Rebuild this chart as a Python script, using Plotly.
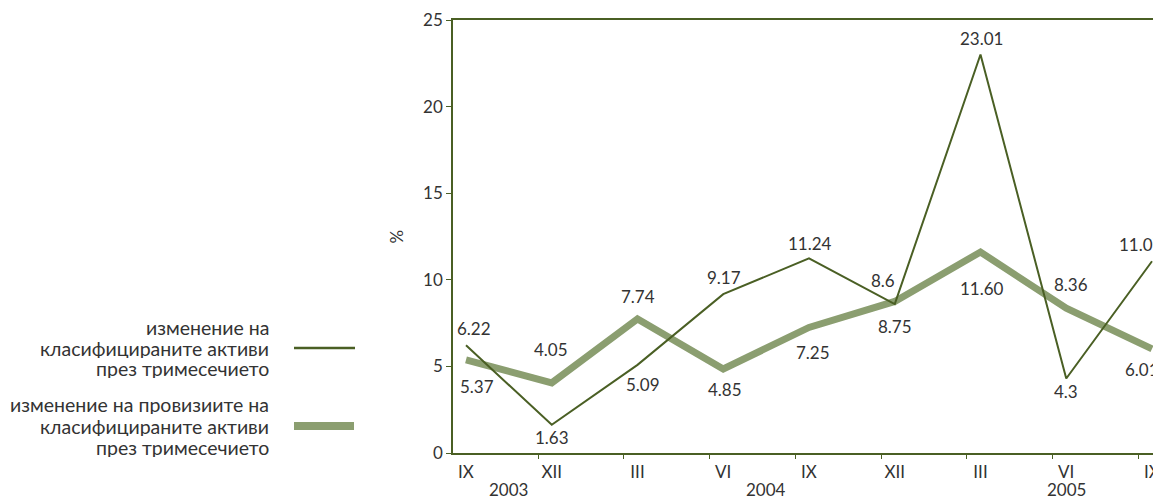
import plotly.graph_objects as go

# ---- data ----
months = ["IX", "XII", "III", "VI", "IX", "XII", "III", "VI", "IX"]
years = ["2003", "2003", "2004", "2004", "2004", "2004", "2005", "2005", "2005"]
assets_change = [6.22, 1.63, 5.09, 9.17, 11.24, 8.6, 23.01, 4.3, 11.07]
provisions_change = [5.37, 4.05, 7.74, 4.85, 7.25, 8.75, 11.60, 8.36, 6.01]
assets_labels = ["6.22", "1.63", "5.09", "9.17", "11.24", "8.6", "23.01", "4.3", "11.07"]
provisions_labels = ["5.37", "4.05", "7.74", "4.85", "7.25", "8.75", "11.60", "8.36", "6.01"]
name_assets = ["изменение на", "класифицираните активи", "през тримесечието"]
name_prov = ["изменение на провизиите на", "класифицираните активи", "през тримесечието"]

# ---- styles ----
DARK = "#4a5f24"
LIGHT = "#8b9e70"
TXT = "#333333"
FONT = "Lato"
NUM = 17
# label offsets (px) for data labels: (xshift, yshift)
assets_off = [(8, 17), (0, -13), (5, -20), (1, 17), (1, 15), (-12, 24), (1, 16), (0, -13), (-11, 17)]
prov_off = [(11, -27), (-1, 33), (0, 22), (2, -20), (4, -25), (0, -25), (1, -36), (5, 24), (-10, -21)]

OFF = 8  # page body margin
W, H = 1153, 490
L, R, T, B = 445, 0, 12, 45
pw, ph = W - L - R, H - T - B

def px_x(sx):
    return (sx - OFF - L) / pw

def px_y(sy):
    return (OFF + H - B - sy) / ph

xs = list(range(len(months)))

fig = go.Figure()
fig.add_trace(go.Scatter(x=xs, y=provisions_change, mode="lines",
                         line=dict(color=LIGHT, width=7), showlegend=False))
fig.add_trace(go.Scatter(x=xs, y=assets_change, mode="lines",
                         line=dict(color=DARK, width=2), showlegend=False))

ann = []
for i, (v, t) in enumerate(zip(assets_change, assets_labels)):
    ann.append(dict(x=xs[i], y=v, text=t, showarrow=False, xshift=assets_off[i][0],
                    yshift=assets_off[i][1], font=dict(size=NUM, color=TXT, family=FONT)))
for i, (v, t) in enumerate(zip(provisions_change, provisions_labels)):
    ann.append(dict(x=xs[i], y=v, text=t, showarrow=False, xshift=prov_off[i][0],
                    yshift=prov_off[i][1], font=dict(size=NUM, color=TXT, family=FONT)))

# year group labels centred under their months
groups = {}
for i, yv in enumerate(years):
    groups.setdefault(yv, []).append(xs[i])
for yv, idx in groups.items():
    ann.append(dict(x=sum(idx) / len(idx), y=px_y(489), xref="x", yref="paper", text=yv,
                    showarrow=False, yanchor="middle", height=16,
                    font=dict(size=NUM, color=TXT, family=FONT)))

# y axis title
ann.append(dict(x=px_x(384), y=px_y(237), xref="paper", yref="paper", text="%", textangle=-90,
                showarrow=False, font=dict(size=NUM, color=TXT, family=FONT)))

# legend (text left, sample right)
for lines, ys in ((name_assets, (327, 348, 368)), (name_prov, (404, 426, 447))):
    for line, yy in zip(lines, ys):
        ann.append(dict(x=px_x(271), y=px_y(yy), xref="paper", yref="paper", text=line,
                        showarrow=False, xanchor="right", yanchor="middle", height=20,
                        font=dict(size=19.5, color=TXT, family=FONT)))

shapes = [
    dict(type="line", xref="paper", yref="paper", x0=px_x(294), x1=px_x(355),
         y0=px_y(348), y1=px_y(348), line=dict(color=DARK, width=2.5)),
    dict(type="line", xref="paper", yref="paper", x0=px_x(294), x1=px_x(354),
         y0=px_y(426), y1=px_y(426), line=dict(color=LIGHT, width=8)),
]

fig.update_layout(
    width=W, height=H,
    margin=dict(l=L, r=R, t=T, b=B),
    paper_bgcolor="white", plot_bgcolor="white",
    annotations=ann, shapes=shapes,
    font=dict(family=FONT, size=NUM, color=TXT),
    xaxis=dict(range=[-0.1516, 8.105], tickmode="array", tickvals=xs, ticktext=months,
               showgrid=False, zeroline=False, showline=True, linecolor=DARK, linewidth=1.5,
               mirror=True, ticks="", ticklabelstandoff=3,
               tickfont=dict(size=NUM, color=TXT, family=FONT),
               minor=dict(ticks="outside", tick0=-0.16, dtick=1, ticklen=4,
                          tickcolor=DARK, tickwidth=1, showgrid=False)),
    yaxis=dict(range=[0, 25], tickvals=[0, 5, 10, 15, 20, 25], showgrid=False,
               zeroline=False, showline=True, linecolor=DARK, linewidth=1.5,
               ticks="outside", ticklen=5, tickcolor=DARK,
               tickfont=dict(size=NUM, color=TXT, family=FONT)),
)

fig.write_html("out.html")
